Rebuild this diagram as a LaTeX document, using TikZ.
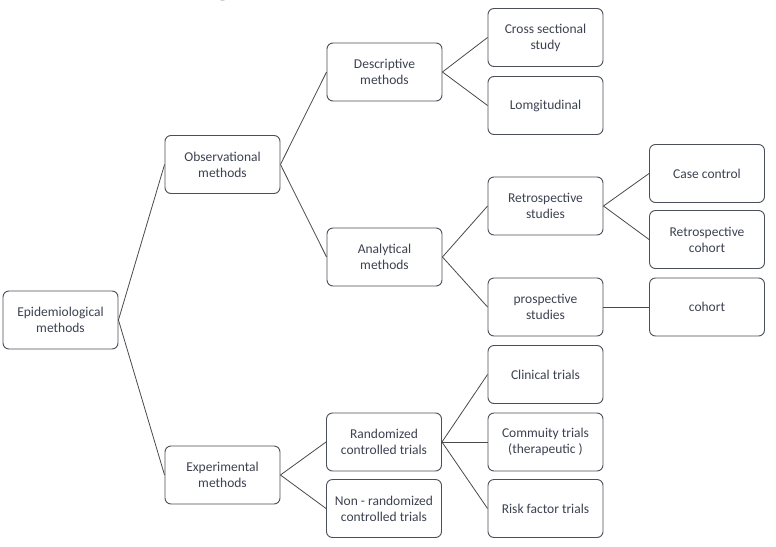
\documentclass[tikz,border=0pt]{standalone}
\usepackage{fontspec}
\setmainfont{Carlito}
\definecolor{boxline}{HTML}{4A4F5A}
\definecolor{boxtext}{HTML}{3C4250}
\definecolor{linkcol}{HTML}{4A4A4A}
\begin{document}
\begin{tikzpicture}[x=1pt,y=-1pt,
  box/.style={draw=boxline, line width=0.9pt, rounded corners=6pt, minimum width=115pt, minimum height=58pt,
    inner sep=2pt, align=center, text=boxtext, font=\fontsize{13.5}{16}\selectfont},
  link/.style={draw=linkcol, line width=0.8pt}]
\useasboundingbox (0,0) rectangle (776,546);
\fill[white] (0,0) rectangle (776,546);
% cut-off title descenders
\node[anchor=base west, inner sep=0pt, font=\fontsize{42}{42}\selectfont] (tg) at (213,-6.5) {g};
\node[anchor=base west, inner sep=0pt, font=\fontsize{42}{42}\selectfont] (tp) at (340,-7) {p};
% level 0
\node[box] (epi) at (60.5,320) {Epidemiological\\methods};
% level 1
\node[box] (obs) at (222.5,164.5) {Observational\\methods};
\node[box] (exp) at (222.5,475) {Experimental\\methods};
% level 2
\node[box] (des) at (384.5,72) {Descriptive\\methods};
\node[box] (ana) at (384.5,257) {Analytical\\methods};
\node[box] (rct) at (384,442) {Randomized\\controlled trials};
\node[box] (nrct) at (384,508.5) {Non - randomized\\controlled trials};
% level 3
\node[box] (cross) at (545.5,37.5) {Cross sectional\\study};
\node[box] (longi) at (545.5,105.5) {Lomgitudinal};
\node[box] (retro) at (545.5,206) {Retrospective\\studies};
\node[box] (pros) at (545.5,307) {prospective\\studies};
\node[box] (clin) at (545.5,374.5) {Clinical trials};
\node[box] (comm) at (545.5,442) {Commuity trials\\(therapeutic~)};
\node[box] (risk) at (545.5,508.5) {Risk factor trials};
% level 4
\node[box] (case) at (707,173.5) {Case control};
\node[box] (rcoh) at (707,239.5) {Retrospective\\cohort};
\node[box] (coh) at (707,307) {cohort};
% connectors
\draw[link] (epi.east) -- (obs.west);
\draw[link] (epi.east) -- (exp.west);
\draw[link] (obs.east) -- (des.west);
\draw[link] (obs.east) -- (ana.west);
\draw[link] (exp.east) -- (rct.west);
\draw[link] (exp.east) -- (nrct.west);
\draw[link] (des.east) -- (cross.west);
\draw[link] (des.east) -- (longi.west);
\draw[link] (ana.east) -- (retro.west);
\draw[link] (ana.east) -- (pros.west);
\draw[link] (retro.east) -- (case.west);
\draw[link] (retro.east) -- (rcoh.west);
\draw[link] (pros.east) -- (coh.west);
\draw[link] (rct.east) -- (clin.west);
\draw[link] (rct.east) -- (comm.west);
\draw[link] (rct.east) -- (risk.west);
\end{tikzpicture}
\end{document}
